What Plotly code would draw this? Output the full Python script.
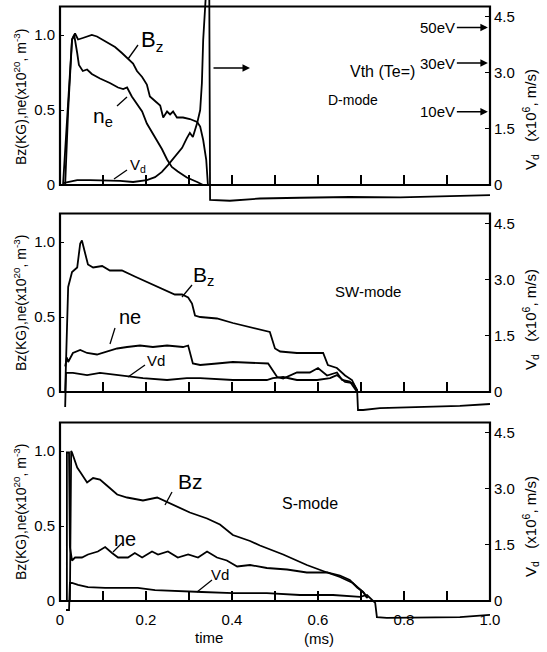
import plotly.graph_objects as go

W, H = 547, 652
FONT = "Liberation Sans"

# ---------------- data (time in ms) ----------------
# D-mode
d_bz_t = [0.007, 0.028, 0.035, 0.042, 0.053, 0.065, 0.074, 0.086, 0.098, 0.112, 0.128, 0.144, 0.158,
          0.170, 0.179, 0.191, 0.202, 0.209, 0.221, 0.233, 0.240, 0.249, 0.256, 0.263, 0.272, 0.286,
          0.302, 0.319, 0.326, 0.333, 0.340, 0.344]
d_bz = [0, 0.97, 1.01, 0.97, 0.98, 0.99, 1.0, 0.99, 0.97, 0.95, 0.92, 0.88, 0.84,
        0.81, 0.76, 0.72, 0.67, 0.59, 0.56, 0.53, 0.45, 0.49, 0.47, 0.49, 0.45, 0.45,
        0.44, 0.42, 0.39, 0.30, 0.17, 0.0]
d_ne_t = [0.012, 0.019, 0.028, 0.033, 0.040, 0.044, 0.053, 0.063, 0.074, 0.093, 0.116, 0.135, 0.147,
          0.156, 0.167, 0.179, 0.191, 0.202, 0.214, 0.226, 0.237, 0.249, 0.260, 0.274, 0.295, 0.319, 0.333]
d_ne = [0, 0.5, 0.97, 1.0, 0.88, 0.80, 0.76, 0.77, 0.74, 0.71, 0.68, 0.65, 0.64,
        0.65, 0.59, 0.54, 0.49, 0.41, 0.35, 0.30, 0.24, 0.17, 0.12, 0.09, 0.05, 0.02, 0.0]
d_vd_t = [0.007, 0.023, 0.040, 0.070, 0.109, 0.140, 0.170, 0.202, 0.221, 0.237, 0.251, 0.267, 0.284,
          0.295, 0.302, 0.309, 0.319, 0.326, 0.330, 0.333, 0.337, 0.342, 0.347, 0.349, 0.395, 0.465,
          0.558, 0.674, 0.791, 0.907, 0.972, 1.0]
d_vd = [0.05, 0.08, 0.13, 0.13, 0.13, 0.11, 0.08, 0.13, 0.21, 0.35, 0.53, 0.75, 0.99,
        1.25, 1.39, 1.28, 1.65, 2.0, 2.72, 3.87, 4.93, 5.6, 5.6, -0.40, -0.42, -0.36,
        -0.34, -0.32, -0.33, -0.29, -0.27, -0.27]

# SW-mode
sw_bz_t = [0.012, 0.016, 0.019, 0.028, 0.040, 0.047, 0.051, 0.058, 0.065, 0.077, 0.098, 0.116, 0.144,
           0.174, 0.205, 0.237, 0.267, 0.284, 0.298, 0.307, 0.314, 0.326, 0.365, 0.402, 0.442, 0.488,
           0.500, 0.512, 0.551, 0.612, 0.623, 0.644, 0.663, 0.679, 0.691]
sw_bz = [0, 0.39, 0.70, 0.80, 0.83, 0.99, 1.01, 0.93, 0.85, 0.83, 0.84, 0.81, 0.81,
         0.77, 0.73, 0.69, 0.65, 0.65, 0.63, 0.59, 0.51, 0.50, 0.49, 0.46, 0.43, 0.40,
         0.29, 0.27, 0.26, 0.26, 0.18, 0.16, 0.11, 0.08, 0.01]
sw_ne_t = [0.012, 0.016, 0.019, 0.030, 0.047, 0.063, 0.086, 0.109, 0.133, 0.156, 0.186, 0.216, 0.249,
           0.286, 0.298, 0.309, 0.326, 0.365, 0.402, 0.484, 0.505, 0.519, 0.551, 0.581, 0.600, 0.621,
           0.644, 0.656, 0.674, 0.691]
sw_ne = [0.17, 0.23, 0.20, 0.26, 0.28, 0.26, 0.25, 0.27, 0.29, 0.30, 0.31, 0.30, 0.31,
         0.30, 0.31, 0.19, 0.18, 0.19, 0.20, 0.19, 0.10, 0.09, 0.13, 0.13, 0.16, 0.11,
         0.13, 0.08, 0.07, 0.0]
sw_vd_t = [0.012, 0.014, 0.030, 0.063, 0.093, 0.133, 0.163, 0.193, 0.249, 0.295, 0.326, 0.402, 0.481,
           0.495, 0.519, 0.551, 0.598, 0.628, 0.644, 0.663, 0.681, 0.691, 0.693, 0.705, 0.744, 0.837,
           0.930, 1.0]
sw_vd = [-0.40, 0.51, 0.51, 0.45, 0.51, 0.45, 0.40, 0.37, 0.32, 0.37, 0.37, 0.32, 0.32,
         0.37, 0.40, 0.32, 0.32, 0.37, 0.45, 0.27, 0.24, 0.05, -0.48, -0.48, -0.43, -0.40,
         -0.37, -0.32]

# S-mode
s_bz_t = [0.023, 0.026, 0.028, 0.040, 0.047, 0.063, 0.077, 0.093, 0.109, 0.133, 0.156, 0.193, 0.226,
          0.249, 0.272, 0.302, 0.342, 0.372, 0.402, 0.442, 0.465, 0.519, 0.574, 0.621, 0.651, 0.674,
          0.691, 0.705, 0.716]
s_bz = [0, 1.0, 0.99, 0.89, 0.86, 0.79, 0.82, 0.81, 0.77, 0.71, 0.69, 0.67, 0.69,
        0.66, 0.63, 0.59, 0.55, 0.51, 0.44, 0.40, 0.37, 0.31, 0.24, 0.19, 0.17, 0.14,
        0.09, 0.06, 0.02]
s_ne_t = [0.016, 0.016, 0.021, 0.023, 0.028, 0.035, 0.051, 0.065, 0.088, 0.105, 0.121, 0.135, 0.158,
          0.174, 0.191, 0.214, 0.228, 0.251, 0.274, 0.298, 0.321, 0.342, 0.365, 0.388, 0.412, 0.442,
          0.481, 0.528, 0.574, 0.621, 0.651, 0.681, 0.705, 0.714]
s_ne = [0, 0.99, 0.99, 0.36, 0.27, 0.29, 0.29, 0.31, 0.33, 0.36, 0.32, 0.29, 0.29,
        0.32, 0.29, 0.33, 0.31, 0.33, 0.29, 0.31, 0.29, 0.33, 0.29, 0.27, 0.23, 0.24,
        0.22, 0.21, 0.19, 0.19, 0.16, 0.12, 0.06, 0.02]
s_vd_t = [0.014, 0.021, 0.023, 0.028, 0.042, 0.065, 0.105, 0.144, 0.181, 0.221, 0.260, 0.298, 0.330,
          0.402, 0.481, 0.558, 0.635, 0.698, 0.714, 0.733, 0.737, 0.760, 0.853, 0.930, 1.0]
s_vd = [-0.24, -0.24, 0.48, 0.48, 0.43, 0.37, 0.35, 0.35, 0.35, 0.29, 0.27, 0.24, 0.24,
        0.21, 0.21, 0.16, 0.16, 0.11, 0.16, -0.05, -0.43, -0.45, -0.45, -0.43, -0.37]

# axis ticks / labels
time_ticks = [0.0, 0.1, 0.2, 0.3, 0.4, 0.5, 0.6, 0.7, 0.8, 0.9, 1.0]
time_labels = ["0", "", "0.2", "", "0.4", "", "0.6", "", "0.8", "", "1.0"]
left_ticks = [0, 0.5, 1.0]
left_labels = ["0", "0.5", "1.0"]
right_ticks = [0, 1.5, 3.0, 4.5]
right_labels = ["0", "1.5", "3.0", "4.5"]
vth_labels = ["50eV", "30eV", "10eV"]
vth_values = [4.2, 3.25, 1.95]
mode_names = ["D-mode", "SW-mode", "S-mode"]

# ---------------- layout geometry (pixels) ----------------
def px(x):
    return x / W

def py(y):
    return 1 - y / H

X0, X1 = 60, 490
PANEL_TOP = [0, 207, 416]
PANEL_H = 206
ZERO_OFF = 185          # zero line offset from panel top
YMIN, YMAX = -0.14, 1.23333
RATIO = 4.0             # right-axis units per left-axis unit
FRAME_TOP = 1.19

fig = go.Figure()
panels = [
    (d_bz_t, d_bz, d_ne_t, d_ne, d_vd_t, d_vd),
    (sw_bz_t, sw_bz, sw_ne_t, sw_ne, sw_vd_t, sw_vd),
    (s_bz_t, s_bz, s_ne_t, s_ne, s_vd_t, s_vd),
]
line = dict(color="black", width=1.8)
layout = {}
shapes = []
for i, (bt, bz, nt, ne, vt, vd) in enumerate(panels):
    xa = "x" if i == 0 else f"x{i+1}"
    yl = f"y{2*i+1}" if i else "y"
    yr = f"y{2*i+2}"
    fig.add_trace(go.Scatter(x=bt, y=bz, xaxis=xa, yaxis=yl, mode="lines", line=line, showlegend=False))
    fig.add_trace(go.Scatter(x=nt, y=ne, xaxis=xa, yaxis=yl, mode="lines", line=line, showlegend=False))
    fig.add_trace(go.Scatter(x=vt, y=vd, xaxis=xa, yaxis=yr, mode="lines", line=line, showlegend=False))

    top = PANEL_TOP[i]
    dom = [py(top + PANEL_H), py(top)]
    zero_paper = py(top + ZERO_OFF)
    xkey = "xaxis" if i == 0 else f"xaxis{i+1}"
    ylkey = "yaxis" if i == 0 else f"yaxis{2*i+1}"
    yrkey = f"yaxis{2*i+2}"
    layout[xkey] = dict(domain=[px(X0), px(X1)], range=[0, 1.0], anchor="free", position=zero_paper,
                        tickmode="array", tickvals=time_ticks, ticktext=time_labels,
                        showticklabels=(i == 2), ticks="inside", ticklen=9, tickwidth=1.6,
                        tickcolor="black", showline=True, linecolor="black", linewidth=2.2,
                        showgrid=False, zeroline=False, ticklabelstandoff=5,
                        tickfont=dict(family=FONT, size=15, color="black"))
    layout[ylkey] = dict(domain=dom, range=[YMIN, YMAX], anchor=xa, tickmode="array",
                         tickvals=left_ticks, ticktext=left_labels, ticks="inside", ticklen=4,
                         tickcolor="black", showline=False, showgrid=False, zeroline=False,
                         ticklabelstandoff=4,
                         tickfont=dict(family=FONT, size=15, color="black"))
    layout[yrkey] = dict(domain=dom, range=[YMIN * RATIO, YMAX * RATIO], anchor=xa, overlaying=yl,
                         side="right", tickmode="array", tickvals=right_ticks, ticktext=right_labels,
                         ticks="inside", ticklen=5, tickcolor="black", showline=False,
                         showgrid=False, zeroline=False, ticklabelstandoff=3,
                         tickfont=dict(family=FONT, size=15, color="black"))
    shapes.append(dict(type="rect", xref=f"{xa} domain", yref=yl, x0=0, x1=1, y0=0, y1=FRAME_TOP,
                       line=dict(color="black", width=2.2), fillcolor="rgba(0,0,0,0)"))

# pointer lines (pixel coords)
pointers = [
    ((138, 45), (128, 59)), ((117, 106), (127, 97)), ((127, 170), (114, 179)),
    ((192, 285), (182, 297)), ((115, 328), (110, 344)), ((145, 365), (128, 377)),
    ((172, 492), (165, 505)), ((122, 543), (113, 552)), ((212, 580), (197, 592)),
]
for (a, b) in pointers:
    shapes.append(dict(type="line", xref="paper", yref="paper", x0=px(a[0]), y0=py(a[1]),
                       x1=px(b[0]), y1=py(b[1]), line=dict(color="black", width=1.3)))

ann = []
def text(x, y, s, size, angle=0, xanchor="center"):
    ann.append(dict(x=px(x), y=py(y), xref="paper", yref="paper", text=s, showarrow=False,
                    xanchor=xanchor, yanchor="middle", textangle=angle,
                    font=dict(family=FONT, size=size, color="black")))

# curve labels
text(152, 41, "B<sub>z</sub>", 22)
text(103, 117, "n<sub>e</sub>", 21)
text(138, 165, "V<sub>d</sub>", 15)
text(203, 276, "B<sub>z</sub>", 21)
text(130, 317, "ne", 20)
text(156, 360, "Vd", 15)
text(190, 482, "Bz", 21)
text(125, 539, "ne", 20)
text(220, 574, "Vd", 15)
# mode labels
text(353, 100, mode_names[0], 14)
text(368, 291, mode_names[1], 15)
text(310, 503, mode_names[2], 16)
# axis titles
left_title = "Bz(KG),ne(x10<sup>20</sup>, m<sup>-3</sup>)"
right_title = "V<sub>d</sub>   (x10<sup>6</sup>, m/s)"
for cy in (97, 303, 512):
    text(20, cy, left_title, 14, angle=-90)
for cy in (120, 320, 527):
    text(530, cy, right_title, 15, angle=-90)
text(209, 637, "time", 15)
text(319, 638, "(ms)", 15)
text(417, 71, "Vth (Te=)", 16, xanchor="right")

# horizontal arrow in D-mode
ann.append(dict(x=px(250), y=py(68), xref="paper", yref="paper", text="", showarrow=True,
                ax=-38, ay=0, arrowhead=2, arrowsize=1, arrowwidth=1.5, arrowcolor="black"))
# thermal-velocity arrows to right axis
for lab, v in zip(vth_labels, vth_values):
    ann.append(dict(x=0.995, y=v, xref="x", yref="y2", text=lab, showarrow=True, ax=-31, ay=0,
                    xanchor="right", arrowhead=2, arrowsize=1, arrowwidth=1.5, arrowcolor="black",
                    font=dict(family=FONT, size=15, color="black")))

fig.update_layout(width=W, height=H, margin=dict(l=0, r=0, t=0, b=0), template="none",
                  paper_bgcolor="white", plot_bgcolor="rgba(0,0,0,0)", showlegend=False,
                  shapes=shapes, annotations=ann, **layout)
fig.write_html("out.html")
